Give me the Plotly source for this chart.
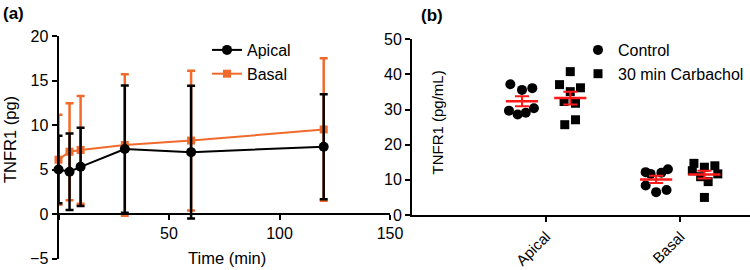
import numpy as np
import plotly.graph_objects as go

# ---------- Panel (a) data ----------
time_min = [0, 5, 10, 30, 60, 120]
apical_mean = [5.0, 4.75, 5.3, 7.3, 6.95, 7.55]
apical_sd = [3.8, 4.3, 4.4, 7.15, 7.45, 5.9]
basal_mean = [6.1, 7.0, 7.2, 7.75, 8.25, 9.5]
basal_sd = [5.05, 5.45, 6.05, 7.95, 7.85, 8.0]

# ---------- Panel (b) data ----------
categories = ["Apical", "Basal"]
control_apical = [37.2, 35.6, 36.1, 29.7, 28.6, 29.1, 30.4]
control_apical_jit = [-0.087, 0.0, 0.077, -0.097, -0.032, 0.028, 0.089]
carb_apical = [40.8, 37.1, 36.2, 35.1, 32.3, 31.8, 25.7, 27.1]
carb_apical_jit = [0.0, -0.080, 0.076, 0.0, -0.046, 0.039, -0.041, 0.039]
control_basal = [12.2, 11.7, 12.0, 13.0, 8.4, 6.5, 7.1]
control_basal_jit = [-0.078, -0.041, 0.039, 0.088, -0.078, 0.0, 0.078]
carb_basal = [14.7, 13.6, 14.0, 12.6, 10.9, 9.5, 11.7, 5.0]
carb_basal_jit = [-0.078, 0.0, 0.078, -0.09, -0.028, 0.028, 0.1, 0.0]

ORANGE = "#F06A2C"
RED = "#FF1A1A"
FONT = "Liberation Sans, Arial, sans-serif"
W, H = 750, 270

fig = go.Figure()

# Panel (a): basal drawn first (behind)
fig.add_trace(go.Scatter(
    x=time_min, y=basal_mean, name="Basal", mode="lines+markers",
    line=dict(color=ORANGE, width=2), marker=dict(symbol="square", size=8, color=ORANGE),
    error_y=dict(type="data", array=basal_sd, color=ORANGE, thickness=2.5, width=4),
    xaxis="x", yaxis="y", legend="legend", legendrank=2, cliponaxis=False))
fig.add_trace(go.Scatter(
    x=time_min, y=apical_mean, name="Apical", mode="lines+markers",
    line=dict(color="black", width=2), marker=dict(symbol="circle", size=10, color="black"),
    error_y=dict(type="data", array=apical_sd, color="black", thickness=2.5, width=4),
    xaxis="x", yaxis="y", legend="legend", legendrank=1, cliponaxis=False))

# Panel (b)
OFF = 0.18
groups = [
    ("Control", "circle", 10, [(0, control_apical, control_apical_jit), (1, control_basal, control_basal_jit)], -OFF),
    ("30 min Carbachol", "square", 9, [(0, carb_apical, carb_apical_jit), (1, carb_basal, carb_basal_jit)], OFF),
]
for name, sym, size, sets, off in groups:
    xs, ys = [], []
    for ci, vals, jit in sets:
        xs += [ci + off + j for j in jit]
        ys += vals
    fig.add_trace(go.Scatter(
        x=xs, y=ys, name=name, mode="markers",
        marker=dict(symbol=sym, size=size, color="black"),
        xaxis="x2", yaxis="y2", legend="legend2", cliponaxis=False))

# mean + SEM (red)
HALF = 0.12
lx, ly, cx, cy, ce = [], [], [], [], []
for name, sym, size, sets, off in groups:
    for ci, vals, jit in sets:
        m = float(np.mean(vals))
        sem = float(np.std(vals, ddof=1) / np.sqrt(len(vals)))
        lx += [ci + off - HALF, ci + off + HALF, None]
        ly += [m, m, None]
        cx.append(ci + off)
        cy.append(m)
        ce.append(sem)
fig.add_trace(go.Scatter(x=lx, y=ly, mode="lines", line=dict(color=RED, width=2.5),
                         showlegend=False, xaxis="x2", yaxis="y2"))
fig.add_trace(go.Scatter(x=cx, y=cy, mode="markers", marker=dict(size=1, color=RED, opacity=0),
                         error_y=dict(type="data", array=ce, color=RED, thickness=2, width=7),
                         showlegend=False, xaxis="x2", yaxis="y2"))

# geometry (pixel -> paper)
def px(v):
    return v / W

def py(v):
    return (H - v) / H

ya_dom = [py(258.5), py(36)]
yb_dom = [py(215), py(39.3)]

axis_common = dict(showgrid=False, zeroline=False, showline=True, linecolor="black",
                   linewidth=2, ticks="outside", tickcolor="black", tickwidth=2,
                   automargin=False)
tick16 = dict(family=FONT, size=16, color="black")

def ann(text, x, y, size, angle=0):
    return dict(text=text, x=px(x), y=py(y), xref="paper", yref="paper",
                xanchor="center", yanchor="middle", textangle=angle,
                showarrow=False, font=dict(family=FONT, size=size, color="black"))

fig.update_layout(
    template="none",
    width=W, height=H, margin=dict(l=0, r=0, t=0, b=0, autoexpand=False),
    paper_bgcolor="white", plot_bgcolor="white",
    font=dict(family=FONT, size=16, color="black"),
    xaxis=dict(domain=[px(58.5), px(390)], range=[0, 150], tickvals=[0, 50, 100, 150],
               ticktext=["", "50", "100", "150"], anchor="free", position=py(214),
               ticklen=5, tickfont=tick16, **axis_common),
    yaxis=dict(domain=ya_dom, range=[-5, 20], tickvals=[-5, 0, 5, 10, 15, 20],
               anchor="x", ticklen=5, tickfont=tick16, **axis_common),
    xaxis2=dict(domain=[px(412), 1.0], range=[-1.0, 1.52], tickvals=[0, 1],
                ticktext=categories, tickangle=-45, anchor="y2", ticklen=5,
                tickfont=dict(family=FONT, size=15, color="black"), **axis_common),
    yaxis2=dict(domain=yb_dom, range=[0, 50], tickvals=[0, 10, 20, 30, 40, 50],
                anchor="x2", ticklen=5, tickfont=tick16, **axis_common),
    legend=dict(x=px(207), y=py(33), xanchor="left", yanchor="top",
                bgcolor="rgba(0,0,0,0)", font=dict(family=FONT, size=16),
                tracegroupgap=2, itemwidth=30),
    legend2=dict(x=px(578), y=py(33), xanchor="left", yanchor="top",
                 bgcolor="rgba(0,0,0,0)", font=dict(family=FONT, size=16), itemwidth=30),
    annotations=[
        ann("<b>(a)</b>", 13, 14, 17),
        ann("<b>(b)</b>", 432, 15, 17),
        ann("TNFR1 (pg)", 10, 140, 16.5, -90),
        ann("Time (min)", 226.5, 258, 16.5),
        ann("TNFR1 (pg/mL)", 436.5, 122, 15, -90),
    ],
)

fig.write_html("out.html", config={"displayModeBar": False},
               post_script="document.body.style.margin='0';")
